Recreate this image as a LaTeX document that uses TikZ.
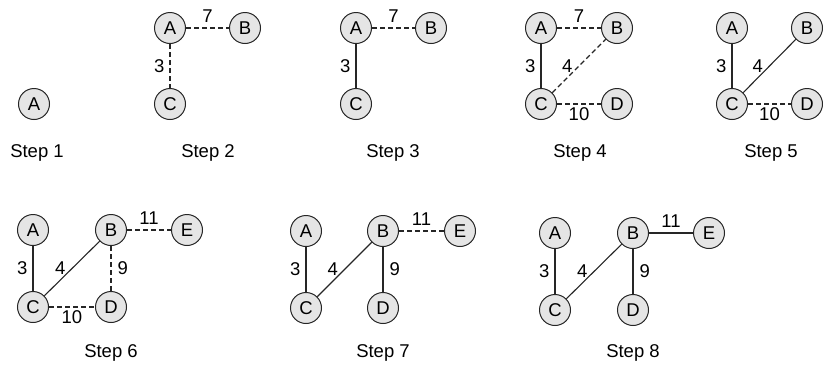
\documentclass[tikz,border=0pt]{standalone}
\usepackage{fontspec}
\setmainfont{Liberation Sans}
\tikzset{
  vtx/.style={circle, draw=black!85, fill=black!10, line width=1pt, minimum size=31pt, inner sep=0pt, font=\fontsize{18.5}{21}\selectfont},
  sel/.style={draw=black!85, line width=1.1pt},
  cand/.style={draw=black!85, line width=1.1pt, dash pattern=on 5pt off 3pt},
  lbl/.style={inner sep=0pt, font=\fontsize{18.5}{21}\selectfont},
  steplbl/.style={inner sep=0pt, font=\fontsize{18.5}{21}\selectfont}
}
\begin{document}
\begin{tikzpicture}[x=1pt,y=-1pt]
\useasboundingbox (0,0) rectangle (823,365);
% Step 1
\node[vtx] (a1) at (34,104) {A};
\node[steplbl] (s1) at (37,153) {Step 1};
% Step 2
\node[vtx] (a2) at (170,28) {A};
\node[vtx] (b2) at (245,28) {B};
\node[vtx] (c2) at (170,104) {C};
\draw[cand] (a2) -- node[lbl, above=5pt] {7} (b2);
\draw[cand] (a2) -- node[lbl, left=5pt] {3} (c2);
\node[steplbl] (s2) at (208,153) {Step 2};
% Step 3
\node[vtx] (a3) at (356,28) {A};
\node[vtx] (b3) at (431,28) {B};
\node[vtx] (c3) at (356,104) {C};
\draw[cand] (a3) -- node[lbl, above=5pt] {7} (b3);
\draw[sel] (a3) -- node[lbl, left=5pt] {3} (c3);
\node[steplbl] (s3) at (393,153) {Step 3};
% Step 4
\node[vtx] (a4) at (541,28) {A};
\node[vtx] (b4) at (617,28) {B};
\node[vtx] (c4) at (541,104) {C};
\node[vtx] (d4) at (617,104) {D};
\draw[cand] (a4) -- node[lbl, above=5pt] {7} (b4);
\draw[sel] (a4) -- node[lbl, left=5pt] {3} (c4);
\draw[cand] (c4) -- node[lbl, left=6pt] {4} (b4);
\draw[cand] (c4) -- node[lbl, below=3pt] {10} (d4);
\node[steplbl] (s4) at (580,153) {Step 4};
% Step 5
\node[vtx] (a5) at (732,28) {A};
\node[vtx] (b5) at (807,28) {B};
\node[vtx] (c5) at (732,104) {C};
\node[vtx] (d5) at (807,104) {D};
\draw[sel] (a5) -- node[lbl, left=5pt] {3} (c5);
\draw[sel] (c5) -- node[lbl, left=6pt] {4} (b5);
\draw[cand] (c5) -- node[lbl, below=3pt] {10} (d5);
\node[steplbl] (s5) at (771,153) {Step 5};
% Step 6
\node[vtx] (a6) at (33,230) {A};
\node[vtx] (b6) at (111,230) {B};
\node[vtx] (e6) at (187,230) {E};
\node[vtx] (c6) at (33,307) {C};
\node[vtx] (d6) at (111,307) {D};
\draw[sel] (a6) -- node[lbl, left=5pt] {3} (c6);
\draw[sel] (c6) -- node[lbl, left=6pt] {4} (b6);
\draw[cand] (b6) -- node[lbl, right=6pt] {9} (d6);
\draw[cand] (c6) -- node[lbl, below=3pt] {10} (d6);
\draw[cand] (b6) -- node[lbl, above=5pt] {11} (e6);
\node[steplbl] (s6) at (111,353) {Step 6};
% Step 7
\node[vtx] (a7) at (306,231) {A};
\node[vtx] (b7) at (383,231) {B};
\node[vtx] (e7) at (460,231) {E};
\node[vtx] (c7) at (306,308) {C};
\node[vtx] (d7) at (383,308) {D};
\draw[sel] (a7) -- node[lbl, left=5pt] {3} (c7);
\draw[sel] (c7) -- node[lbl, left=6pt] {4} (b7);
\draw[sel] (b7) -- node[lbl, right=6pt] {9} (d7);
\draw[cand] (b7) -- node[lbl, above=5pt] {11} (e7);
\node[steplbl] (s7) at (383,353) {Step 7};
% Step 8
\node[vtx] (a8) at (555,233) {A};
\node[vtx] (b8) at (633,233) {B};
\node[vtx] (e8) at (709,233) {E};
\node[vtx] (c8) at (555,310) {C};
\node[vtx] (d8) at (633,310) {D};
\draw[sel] (a8) -- node[lbl, left=5pt] {3} (c8);
\draw[sel] (c8) -- node[lbl, left=6pt] {4} (b8);
\draw[sel] (b8) -- node[lbl, right=6pt] {9} (d8);
\draw[sel] (b8) -- node[lbl, above=5pt] {11} (e8);
\node[steplbl] (s8) at (633,353) {Step 8};
\end{tikzpicture}
\end{document}
